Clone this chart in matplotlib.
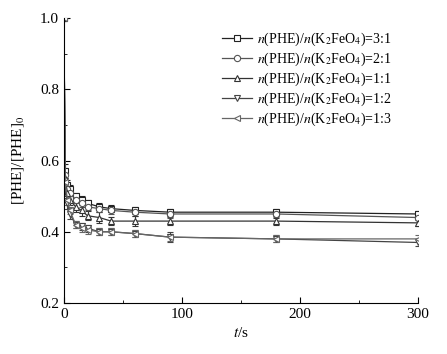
import matplotlib
matplotlib.use('Agg')
import matplotlib.pyplot as plt
from matplotlib.lines import Line2D
from matplotlib.ticker import MultipleLocator

plt.rcParams['font.family'] = ['Liberation Serif', 'DejaVu Serif']
plt.rcParams['mathtext.fontset'] = 'stix'
plt.rcParams['font.size'] = 10.5

# time points (s)
t = [0, 1, 3, 5, 10, 15, 20, 30, 40, 60, 90, 180, 300]

# [PHE]/[PHE]0 for each molar ratio
r31 = [1.0, 0.57, 0.53, 0.52, 0.50, 0.49, 0.48, 0.47, 0.465, 0.46, 0.455, 0.455, 0.45]
r21 = [1.0, 0.56, 0.52, 0.51, 0.49, 0.48, 0.47, 0.465, 0.46, 0.455, 0.45, 0.45, 0.44]
r11 = [1.0, 0.55, 0.51, 0.49, 0.47, 0.46, 0.445, 0.44, 0.43, 0.43, 0.43, 0.43, 0.425]
r12 = [1.0, 0.53, 0.48, 0.45, 0.42, 0.415, 0.41, 0.40, 0.40, 0.395, 0.385, 0.38, 0.37]
r13 = [1.0, 0.54, 0.49, 0.46, 0.42, 0.41, 0.405, 0.40, 0.40, 0.395, 0.385, 0.38, 0.38]

e31 = [0.0, 0.02, 0.015, 0.01, 0.01, 0.01, 0.01, 0.01, 0.01, 0.01, 0.01, 0.01, 0.008]
e21 = [0.0, 0.02, 0.015, 0.01, 0.01, 0.01, 0.01, 0.01, 0.01, 0.01, 0.01, 0.008, 0.008]
e11 = [0.0, 0.02, 0.015, 0.015, 0.015, 0.015, 0.012, 0.015, 0.012, 0.015, 0.012, 0.01, 0.01]
e12 = [0.0, 0.02, 0.015, 0.015, 0.01, 0.01, 0.01, 0.01, 0.01, 0.01, 0.015, 0.01, 0.01]
e13 = [0.0, 0.02, 0.015, 0.01, 0.01, 0.01, 0.01, 0.01, 0.01, 0.01, 0.01, 0.01, 0.01]

ratios = ['3:1', '2:1', '1:1', '1:2', '1:3']
series = [r31, r21, r11, r12, r13]
errs = [e31, e21, e11, e12, e13]
markers = ['s', 'o', '^', 'v', '<']
colors = ['#222222', '#555555', '#333333', '#444444', '#666666']

fig = plt.figure(figsize=(4.47, 3.54), dpi=100)
ax = fig.add_axes([0.143, 0.144, 0.792, 0.805])

handles = []
for y, e, m, c, r in zip(series, errs, markers, colors, ratios):
    ax.errorbar(t, y, yerr=e, color=c, marker=m, markersize=4.5,
                markerfacecolor='white', markeredgecolor=c, markeredgewidth=0.8,
                linewidth=0.9, elinewidth=0.8, capsize=2)
    # legend entry: line + open marker, no error bar
    handles.append(Line2D([], [], color=c, marker=m, markersize=4.5,
                          markerfacecolor='white', markeredgecolor=c,
                          markeredgewidth=0.8, linewidth=0.9,
                          label=r'$n$(PHE)/$n$(K$_2$FeO$_4$)=' + r))

ax.set_xlim(0, 300)
ax.set_ylim(0.2, 1.0)
ax.xaxis.set_major_locator(MultipleLocator(100))
ax.xaxis.set_minor_locator(MultipleLocator(50))
ax.yaxis.set_major_locator(MultipleLocator(0.2))
ax.yaxis.set_minor_locator(MultipleLocator(0.1))
ax.tick_params(which='both', direction='in', top=False, right=False)
ax.tick_params(which='major', length=4, labelsize=11)
ax.tick_params(which='minor', length=2.5)
ax.spines['top'].set_visible(False)
ax.spines['right'].set_visible(False)

ax.set_xlabel(r'$t$/s', fontsize=11)
ax.set_ylabel(r'[PHE]/[PHE]$_0$', fontsize=11, labelpad=10)

ax.legend(handles=handles, loc='upper right', frameon=False, fontsize=10,
          handlelength=2.2, labelspacing=0.2, handletextpad=0.3,
          bbox_to_anchor=(0.96, 1.0))

fig.savefig('out.png', dpi=100)
